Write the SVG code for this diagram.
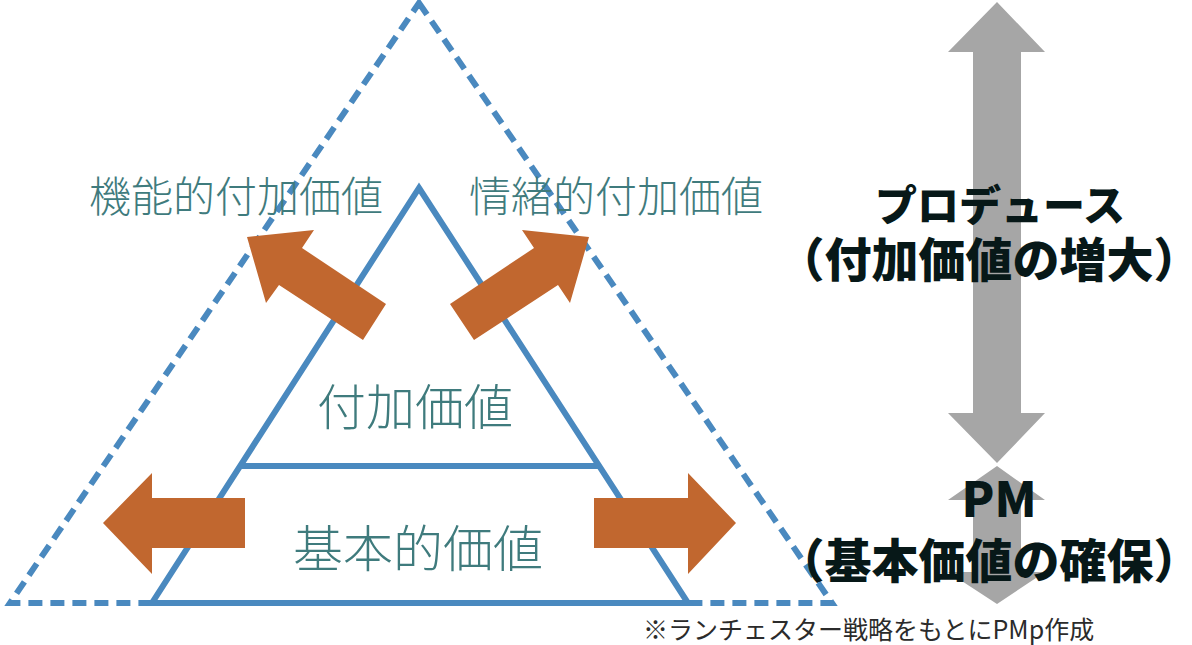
<svg xmlns="http://www.w3.org/2000/svg" width="1192" height="645" viewBox="0 0 1192 645">
<style>
.blue{fill:none;stroke:#4a89bf;stroke-width:6}
.dash{stroke-dasharray:14 8}
.orange{fill:#c1672f}
.gray{fill:#a6a6a6}
.teal{font-family:"Noto Sans CJK JP","Noto Sans",sans-serif;font-weight:300;fill:#3f7b7d}
.bold{font-family:"Noto Sans CJK JP","Noto Sans",sans-serif;font-weight:900;fill:#071818;text-anchor:middle}
.note{font-family:"Noto Sans CJK JP","Noto Sans",sans-serif;font-weight:400;fill:#2b2b2b;font-size:25px}
</style>
<rect width="1192" height="645" fill="#ffffff"/>
<g id="outer-triangle">
<polygon class="blue dash" points="419,3 832,603 10,603"/>
</g>
<g id="inner-triangle">
<polygon class="blue" points="419,188 688,603 152,603"/>
<line class="blue" x1="240" y1="466" x2="599" y2="466"/>
</g>
<g id="gray-arrows">
<polygon id="arrow-up-down" class="gray" points="997,2 1045,52 1021,52 1021,413 1045,413 997,463 948,413 973,413 973,52 948,52"/>
<polygon id="arrow-pm" class="gray" points="997,466 1045,500 1021,500 1021,572 1045,572 997,604 948,572 973,572 973,500 948,500"/>
</g>
<g id="connectors">
<polygon class="orange" points="247,237 314,230 302,248 386,304 363,340 279,285 266,303"/>
<polygon class="orange" points="589,237 522,230 534,248 450,304 474,340 558,285 570,303"/>
<polygon class="orange" points="103,523 152,473 152,498 245,498 245,548 152,548 152,574"/>
<polygon class="orange" points="736,523 688,473 688,498 594,498 594,548 688,548 688,574"/>
</g>
<g id="label-functional">
<text class="teal" x="89" y="212" font-size="42">機能的付加価値</text>
</g>
<g id="label-emotional">
<text class="teal" x="469" y="212" font-size="42">情緒的付加価値</text>
</g>
<g id="node-added-value">
<text class="teal" x="415" y="425" font-size="49" text-anchor="middle">付加価値</text>
</g>
<g id="node-basic-value">
<text class="teal" x="418" y="567" font-size="50" text-anchor="middle">基本的価値</text>
</g>
<g id="node-produce">
<text class="bold" x="1000" y="221" font-size="42">プロデュース</text>
<text class="bold" x="989" y="277" font-size="47">（付加価値の増大）</text>
</g>
<g id="node-pm">
<text class="bold" x="999" y="517" font-size="48">PM</text>
<text class="bold" x="989" y="578" font-size="47">（基本価値の確保）</text>
</g>
<g id="footnote">
<text class="note" x="643" y="639">※ランチェスター戦略をもとにPMp作成</text>
</g>
</svg>
